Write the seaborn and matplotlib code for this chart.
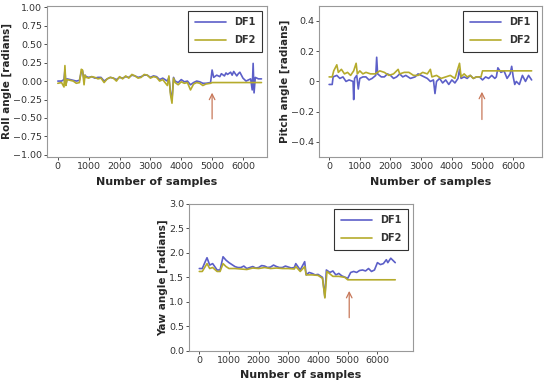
import numpy as np
import pandas as pd
import matplotlib
matplotlib.use("Agg")
import matplotlib.pyplot as plt
import seaborn as sns

# values (sample index, angle in radians)
roll_df1_x = [0, 120, 200, 230, 260, 300, 400, 500, 600, 700, 760, 800, 850, 880, 920, 1000, 1100, 1200, 1300, 1400,
              1500, 1600, 1700, 1800, 1900, 2000, 2100, 2200, 2300, 2400, 2500, 2600, 2700, 2800, 2900, 3000, 3100,
              3200, 3300, 3400, 3550, 3600, 3650, 3700, 3750, 3800, 3900, 4000, 4100, 4200, 4300, 4400, 4500, 4600,
              4700, 4800, 4950, 5000, 5050, 5150, 5250, 5300, 5400, 5450, 5500, 5600, 5650, 5700, 5800, 5850, 5900,
              6000, 6100, 6250, 6300, 6330, 6360, 6400, 6500, 6600]
roll_df1_y = [0.0, 0.0, 0.02, 0.15, -0.05, 0.03, 0.02, 0.01, 0.0, 0.01, 0.12, 0.14, 0.02, 0.08, 0.06, 0.05, 0.06, 0.04,
              0.05, 0.05, 0.0, 0.03, 0.05, 0.04, 0.02, 0.05, 0.04, 0.06, 0.05, 0.08, 0.07, 0.05, 0.06, 0.08, 0.08, 0.05,
              0.07, 0.06, 0.02, 0.04, 0.0, 0.05, -0.15, -0.25, 0.05, 0.0, -0.02, 0.02, -0.01, 0.0, -0.05, -0.02, 0.0,
              -0.01, -0.03, -0.03, -0.02, 0.15, 0.05, 0.08, 0.06, 0.1, 0.07, 0.11, 0.09, 0.12, 0.08, 0.13, 0.07, 0.1,
              0.12, 0.04, 0.0, 0.03, -0.12, 0.24, -0.16, 0.05, 0.03, 0.03]
roll_df2_x = [0, 120, 200, 230, 260, 300, 400, 500, 600, 700, 760, 800, 850, 880, 920, 1000, 1100, 1200, 1300, 1400,
              1500, 1600, 1700, 1800, 1900, 2000, 2100, 2200, 2300, 2400, 2500, 2600, 2700, 2800, 2900, 3000, 3100,
              3200, 3300, 3400, 3550, 3600, 3650, 3700, 3750, 3800, 3900, 4000, 4100, 4200, 4300, 4400, 4500, 4600,
              4700, 4800, 4950, 5000, 6600]
roll_df2_y = [-0.03, -0.02, -0.08, 0.21, -0.06, 0.02, 0.01, 0.0, -0.03, -0.02, 0.16, 0.15, -0.05, 0.08, 0.05, 0.04,
              0.06, 0.05, 0.03, 0.04, -0.02, 0.03, 0.05, 0.04, 0.0, 0.06, 0.03, 0.07, 0.04, 0.09, 0.07, 0.04, 0.05, 0.09,
              0.08, 0.04, 0.06, 0.05, 0.0, 0.02, -0.06, 0.07, -0.18, -0.3, 0.04, -0.02, -0.05, -0.01, -0.03, -0.02,
              -0.12, -0.04, -0.02, -0.03, -0.06, -0.04, -0.03, -0.02, -0.02]

pitch_df1_x = [0, 100, 130, 250, 350, 450, 550, 650, 780, 800, 830, 900, 950, 1000, 1100, 1200, 1300, 1400, 1520,
               1550, 1580, 1700, 1800, 1900, 2000, 2100, 2200, 2300, 2400, 2500, 2650, 2800, 2900, 3000, 3100, 3200,
               3300, 3400, 3450, 3500, 3600, 3700, 3800, 3900, 4000, 4100, 4200, 4250, 4300, 4400, 4500, 4600, 4700,
               4800, 4900, 5000, 5100, 5200, 5300, 5400, 5450, 5500, 5600, 5700, 5800, 5900, 5950, 6000, 6050, 6100,
               6200, 6300, 6400, 6500, 6600]
pitch_df1_y = [-0.02, -0.02, 0.03, 0.04, 0.02, 0.03, 0.0, 0.01, 0.0, -0.12, 0.02, 0.04, -0.05, 0.02, 0.03, 0.03, 0.01,
               0.02, 0.04, 0.16, 0.05, 0.03, 0.03, 0.05, 0.04, 0.02, 0.03, 0.05, 0.03, 0.04, 0.02, 0.03, 0.05, 0.04,
               0.03, 0.02, 0.0, 0.01, -0.08, 0.0, 0.02, -0.01, 0.01, -0.02, 0.01, -0.01, 0.02, 0.08, 0.02, 0.03, 0.02,
               0.04, 0.02, 0.03, 0.03, 0.01, 0.03, 0.02, 0.04, 0.02, 0.03, 0.09, 0.06, 0.07, 0.02, 0.05, 0.1, 0.03,
               -0.02, 0.0, -0.02, 0.04, 0.0, 0.04, 0.01]
pitch_df2_x = [0, 100, 150, 250, 300, 400, 500, 600, 700, 800, 880, 920, 1000, 1100, 1200, 1350, 1500, 1650, 1800,
               1950, 2100, 2250, 2300, 2450, 2600, 2750, 2900, 3050, 3200, 3300, 3350, 3500, 3650, 3800, 3950, 4100,
               4250, 4300, 4400, 4500, 4600, 4700, 4800, 4950, 5000, 6600]
pitch_df2_y = [0.03, 0.03, 0.07, 0.11, 0.06, 0.08, 0.05, 0.06, 0.04, 0.07, 0.12, 0.05, 0.07, 0.05, 0.06, 0.05, 0.05,
               0.07, 0.06, 0.04, 0.05, 0.08, 0.05, 0.06, 0.06, 0.04, 0.04, 0.06, 0.05, 0.08, 0.03, 0.04, 0.02, 0.03,
               0.04, 0.02, 0.12, 0.03, 0.05, 0.03, 0.04, 0.02, 0.03, 0.03, 0.07, 0.07]

yaw_df1_x = [0, 100, 200, 260, 350, 450, 600, 700, 800, 900, 1000, 1100, 1200, 1300, 1400, 1500, 1600, 1700, 1800,
             1900, 2000, 2100, 2200, 2300, 2400, 2500, 2600, 2700, 2800, 2900, 3000, 3100, 3200, 3250, 3400, 3550,
             3600, 3700, 3800, 3900, 4000, 4150, 4230, 4280, 4400, 4500, 4600, 4700, 4800, 5000, 5100, 5200, 5300,
             5400, 5500, 5600, 5700, 5800, 5900, 6000, 6100, 6200, 6300, 6350, 6450, 6600]
yaw_df1_y = [1.68, 1.68, 1.82, 1.9, 1.75, 1.78, 1.65, 1.65, 1.92, 1.85, 1.8, 1.76, 1.72, 1.7, 1.7, 1.73, 1.68, 1.7,
             1.72, 1.69, 1.7, 1.74, 1.73, 1.7, 1.71, 1.75, 1.72, 1.7, 1.7, 1.73, 1.71, 1.69, 1.7, 1.78, 1.65, 1.82,
             1.55, 1.6, 1.58, 1.55, 1.56, 1.5, 1.1, 1.65, 1.6, 1.63, 1.55, 1.58, 1.53, 1.48, 1.6, 1.62, 1.6, 1.64,
             1.65, 1.63, 1.68, 1.62, 1.65, 1.8, 1.76, 1.78, 1.86, 1.8, 1.89, 1.8]
yaw_df2_x = [0, 100, 200, 260, 350, 450, 600, 700, 800, 900, 1000, 1200, 1400, 1600, 1800, 2000, 2200, 2400, 2600,
             2800, 3000, 3200, 3250, 3400, 3550, 3600, 3800, 4000, 4150, 4230, 4300, 4500, 4700, 4900, 5000, 6600]
yaw_df2_y = [1.62, 1.62, 1.72, 1.78, 1.68, 1.7, 1.62, 1.62, 1.78, 1.72, 1.68, 1.68, 1.67, 1.66, 1.69, 1.68, 1.7, 1.68,
             1.69, 1.68, 1.68, 1.67, 1.72, 1.62, 1.72, 1.55, 1.55, 1.54, 1.48, 1.08, 1.62, 1.52, 1.52, 1.5, 1.45, 1.45]

# where the change-over happens (arrow positions)
arrow_x = [5000, 4980, 5050]
arrow_y0 = [-0.55, -0.27, 0.62]
arrow_y1 = [-0.12, -0.05, 1.28]

blue = "#5c5fc8"
olive = "#b5ab2c"

sns.set_style("ticks")
plt.rcParams["font.family"] = ["DejaVu Sans"]

fig = plt.figure(figsize=(5.5, 3.86), dpi=100)
ax1 = fig.add_axes([0.0855, 0.593, 0.400, 0.392])
ax2 = fig.add_axes([0.580, 0.593, 0.405, 0.392])
ax3 = fig.add_axes([0.344, 0.091, 0.407, 0.381])

panels = [
    (ax1, roll_df1_x, roll_df1_y, roll_df2_x, roll_df2_y, "Roll angle [radians]"),
    (ax2, pitch_df1_x, pitch_df1_y, pitch_df2_x, pitch_df2_y, "Pitch angle [radians]"),
    (ax3, yaw_df1_x, yaw_df1_y, yaw_df2_x, yaw_df2_y, "Yaw angle [radians]"),
]

for i, (ax, x1, y1, x2, y2, ylab) in enumerate(panels):
    sns.lineplot(x=x1, y=y1, ax=ax, color=blue, lw=1.2, label="DF1", estimator=None, sort=False)
    sns.lineplot(x=x2, y=y2, ax=ax, color=olive, lw=1.2, label="DF2", estimator=None, sort=False)
    ax.annotate("", xy=(arrow_x[i], arrow_y1[i]), xytext=(arrow_x[i], arrow_y0[i]),
                arrowprops=dict(arrowstyle="->", color="#c8785a", lw=0.9))
    ax.set_xlabel("Number of samples", fontsize=8, fontweight="bold", labelpad=4)
    ax.set_ylabel(ylab, fontsize=7.5, fontweight="bold", labelpad=1)
    ax.set_xticks([0, 1000, 2000, 3000, 4000, 5000, 6000])
    ax.tick_params(labelsize=6.8, colors="#333333", length=2, width=0.6, pad=1.5)
    for s in ax.spines.values():
        s.set_color("#999999")
        s.set_linewidth(0.8)
    leg = ax.legend(loc="upper right", fontsize=7, frameon=True, fancybox=False, handlelength=3.2,
                    borderpad=0.7, labelspacing=0.8)
    leg.get_frame().set_edgecolor("black")
    leg.get_frame().set_linewidth(0.8)
    for t in leg.get_texts():
        t.set_fontweight("bold")
        t.set_color("#333333")

ax1.set_xlim(-350, 6780)
ax1.set_ylim(-1.03, 1.02)
ax1.set_yticks(np.arange(-1.0, 1.01, 0.25))
ax1.set_yticklabels([f"{v:.2f}".replace("-", "\u2212") for v in np.arange(-1.0, 1.01, 0.25)])

ax2.set_xlim(-330, 6930)
ax2.set_ylim(-0.5, 0.5)
ax2.set_yticks([-0.4, -0.2, 0, 0.2, 0.4])
ax2.set_yticklabels(["\u22120.4", "\u22120.2", "0", "0.2", "0.4"])

ax3.set_xlim(-340, 7200)
ax3.set_ylim(0, 3.0)
ax3.set_yticks(np.arange(0, 3.01, 0.5))
ax3.set_yticklabels([f"{v:.1f}" for v in np.arange(0, 3.01, 0.5)])

fig.savefig("out.png", dpi=100)
